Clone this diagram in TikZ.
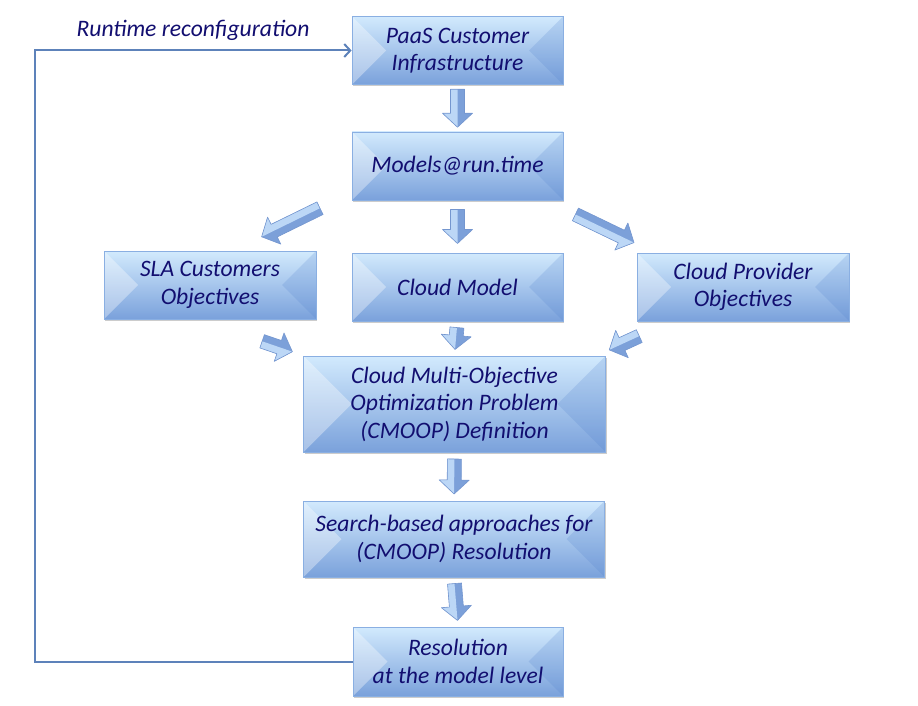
\documentclass[tikz,border=0pt]{standalone}
\usepackage{fontspec}
\setmainfont{Carlito}
\usetikzlibrary{positioning,shadows,arrows.meta,calc}

\definecolor{navytext}{HTML}{120E70}
\definecolor{boxtop}{HTML}{D2EAFD}
\definecolor{boxbot}{HTML}{7AA1DB}
\definecolor{boxline}{HTML}{8AAFE2}
\definecolor{bevelblue}{HTML}{4F7FCC}
\definecolor{arrlight}{HTML}{BCD7F6}
\definecolor{arrdark}{HTML}{7CA0D9}
\definecolor{arrline}{HTML}{7496CF}
\definecolor{loopblue}{HTML}{5D82BA}

\tikzset{
  stage/.style={draw=boxline, line width=0.8pt, top color=boxtop, bottom color=boxbot,
    minimum width=211pt, minimum height=68pt, inner sep=0pt, align=center,
    text=navytext, font=\fontsize{23.6}{27.5}\selectfont\itshape,
    drop shadow={shadow xshift=1pt, shadow yshift=-2pt, fill=black, opacity=0.2},
    path picture={
      \fill[white, opacity=0.35] let \p1=(path picture bounding box.north west),
        \p2=(path picture bounding box.south east), \n1={0.5*(\y1-\y2)} in
        (\x1,\y1) -- (\x1,\y2) -- ({\x1+\n1},{\y1-\n1}) -- cycle;
      \fill[bevelblue, opacity=0.2] let \p1=(path picture bounding box.north west),
        \p2=(path picture bounding box.south east), \n1={0.5*(\y1-\y2)} in
        (\x2,\y1) -- (\x2,\y2) -- ({\x2-\n1},{\y1-\n1}) -- cycle;
    }},
  barrow/.pic={
    \fill[arrdark] ({-#1/2},-7) -- ({#1/2-14},-7) -- ({#1/2-14},-15) -- ({#1/2},0)
      -- ({#1/2-14},15) -- ({#1/2-14},7) -- ({-#1/2},7) -- cycle;
    \fill[arrlight] ({-#1/2},0) -- ({#1/2},0) -- ({#1/2-14},15) -- ({#1/2-14},7)
      -- ({-#1/2},7) -- cycle;
    \draw[arrline, line width=0.6pt, line join=round] ({-#1/2},-7) -- ({#1/2-14},-7)
      -- ({#1/2-14},-15) -- ({#1/2},0) -- ({#1/2-14},15) -- ({#1/2-14},7)
      -- ({-#1/2},7) -- cycle;
  },
  onpath/.style={midway, sloped, allow upside down},
  loopline/.style={draw=loopblue, line width=2pt},
  rtlabel/.style={text=navytext, font=\fontsize{23.6}{27.5}\selectfont\itshape, inner sep=0pt}
}

\begin{document}
\begin{tikzpicture}[x=1pt, y=-1pt]
  \useasboundingbox (0,0) rectangle (918,706);

  % Boxes
  \node[stage] (paas) at (457.5,50.5) {PaaS Customer\\Infrastructure};
  \node[stage] (models) at (457.5,166) {Models@run.time};
  \node[stage, minimum width=212pt] (sla) at (210,285) {SLA Customers\\Objectives};
  \node[stage] (cmodel) at (457.5,287) {Cloud Model};
  \node[stage, minimum width=212pt] (prov) at (743,287) {Cloud Provider\\Objectives};
  \node[stage, minimum width=302pt, minimum height=96pt] (cmoop) at (454.5,404)
    {Cloud Multi-Objective\\Optimization Problem\\(CMOOP) Definition};
  \node[stage, minimum width=301pt, minimum height=76pt] (search) at (454,539)
    {Search-based approaches for\\(CMOOP) Resolution};
  \node[stage, minimum width=210pt, minimum height=69pt] (resol) at (458,661.5)
    {Resolution\\at the model level};

  % Block arrows
  \path (paas.south) -- pic[onpath]{barrow=38} (models.north);
  \path (models.south) -- pic[onpath]{barrow=34} (cmodel.north);
  \path ([shift={(-32,8)}]models.south west) -- pic[onpath]{barrow=65} ([shift={(52,-14)}]sla.north);
  \path ([shift={(12,14)}]models.south east) -- pic[onpath]{barrow=65} ([shift={(-109,-10)}]prov.north);
  \path (cmodel.south) -- pic[onpath]{barrow=22} (cmoop.north);
  \path ([shift={(-54,22)}]sla.south east) -- pic[onpath]{barrow=32} ([shift={(-11,-4)}]cmoop.north west);
  \path ([shift={(2,15)}]prov.south west) -- pic[onpath]{barrow=33} ([shift={(4,-6)}]cmoop.north east);
  \path (cmoop.south) -- pic[onpath]{barrow=35} (search.north);
  \path (search.south) -- pic[onpath]{barrow=37} (resol.north);

  % Feedback loop
  \coordinate (loop) at (35,50.5);
  \draw[loopline, -{Straight Barb[length=6pt,width=13pt]}] (resol.west) -| (loop) -- (paas.west);
  \node[rtlabel] (rtlab) at (193,30) {Runtime reconfiguration};
\end{tikzpicture}
\end{document}
